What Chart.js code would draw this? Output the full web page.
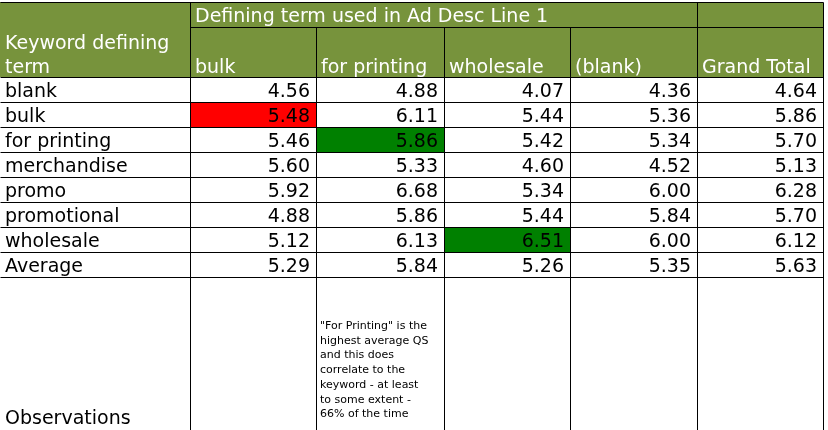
<!DOCTYPE html><html><head><meta charset="utf-8">
<script src="https://cdn.jsdelivr.net/npm/chart.js@4/dist/chart.umd.min.js"></script>
<style>html,body{margin:0;padding:0;background:#fff}#w{width:828px;height:430px}</style></head><body>
<div id="w"><canvas id="c"></canvas></div>
<script>
const topHeader = "Defining term used in Ad Desc Line 1";
const rowHeaderTitle = ["Keyword defining", "term"];
const columns = ["bulk", "for printing", "wholesale", "(blank)", "Grand Total"];
const rows = ["blank", "bulk", "for printing", "merchandise", "promo", "promotional", "wholesale", "Average"];
const bulkVals = [4.56, 5.48, 5.46, 5.60, 5.92, 4.88, 5.12, 5.29];
const forPrintingVals = [4.88, 6.11, 5.86, 5.33, 6.68, 5.86, 6.13, 5.84];
const wholesaleVals = [4.07, 5.44, 5.42, 4.60, 5.34, 5.44, 6.51, 5.26];
const blankVals = [4.36, 5.36, 5.34, 4.52, 6.00, 5.84, 6.00, 5.35];
const totalVals = [4.64, 5.86, 5.70, 5.13, 6.28, 5.70, 6.12, 5.63];
const highlights = [{r:1,c:0,color:"#ff0000"},{r:2,c:1,color:"#008000"},{r:6,c:2,color:"#008000"}];
const obsLabel = "Observations";
const obsNote = ["\"For Printing\" is the","highest average QS","and this does","correlate to the","keyword - at least","to some extent -","66% of the time"];

const colEdges = [0, 190, 316, 444, 570, 697, 823];
const rowEdges = [2, 27, 77, 102, 127, 152, 177, 202, 227, 252, 277, 430];
const series = [bulkVals, forPrintingVals, wholesaleVals, blankVals, totalVals];
const OLIVE = "#77933c";
const FONT = '19px "DejaVu Sans"';

const tablePlugin = {
  id: 'table',
  afterDraw(chart) {
    const ctx = chart.ctx, X = chart.scales.x, Y = chart.scales.y;
    const px = v => X.getPixelForValue(v), py = v => Y.getPixelForValue(v);
    ctx.save();
    ctx.fillStyle = OLIVE;
    ctx.fillRect(px(colEdges[0]), py(rowEdges[0]), px(colEdges[6]) - px(colEdges[0]), py(rowEdges[2]) - py(rowEdges[0]));
    highlights.forEach(h => {
      ctx.fillStyle = h.color;
      ctx.fillRect(px(colEdges[h.c+1]), py(rowEdges[h.r+2]), px(colEdges[h.c+2]) - px(colEdges[h.c+1]), py(rowEdges[h.r+3]) - py(rowEdges[h.r+2]));
    });
    ctx.strokeStyle = "#000"; ctx.lineWidth = 1;
    const line = (x1,y1,x2,y2)=>{ctx.beginPath();ctx.moveTo(Math.round(x1)+0.5,Math.round(y1)+0.5);ctx.lineTo(Math.round(x2)+0.5,Math.round(y2)+0.5);ctx.stroke();};
    line(px(0), py(rowEdges[0]), px(823), py(rowEdges[0]));
    line(px(190), py(rowEdges[1]), px(823), py(rowEdges[1]));
    for (let i = 2; i < rowEdges.length - 1; i++) line(px(0), py(rowEdges[i]), px(823), py(rowEdges[i]));
    line(px(190), py(rowEdges[0]), px(190), py(430));
    line(px(697), py(rowEdges[0]), px(697), py(430));
    line(px(823), py(rowEdges[0]), px(823), py(430));
    [316, 444, 570].forEach(x => line(px(x), py(rowEdges[1]), px(x), py(430)));
    ctx.font = FONT; ctx.textBaseline = "alphabetic";
    ctx.fillStyle = "#fff"; ctx.textAlign = "left";
    ctx.fillText(topHeader, px(195), py(22));
    ctx.fillText(rowHeaderTitle[0], px(5), py(49));
    ctx.fillText(rowHeaderTitle[1], px(5), py(73));
    columns.forEach((c,i) => ctx.fillText(c, px(colEdges[i+1]+5), py(73)));
    rows.forEach((r,ri) => {
      const base = py(rowEdges[ri+2]) + 20;
      ctx.fillStyle = "#000"; ctx.textAlign = "left";
      ctx.fillText(r, px(5), base);
      ctx.textAlign = "right";
      series.forEach((s,ci) => ctx.fillText(s[ri].toFixed(2), px(colEdges[ci+2]-6), base));
    });
    ctx.textAlign = "left";
    ctx.fillText(obsLabel, px(5), py(424));
    ctx.font = '11px "DejaVu Sans"';
    obsNote.forEach((t,i) => ctx.fillText(t, px(320), py(329 + i*14.7)));
    ctx.restore();
  }
};

new Chart(document.getElementById('c'), {
  type: 'scatter',
  data: { datasets: [{ data: [] }] },
  options: {
    responsive: true, maintainAspectRatio: false, animation: false,
    layout: { padding: 0 },
    plugins: { legend: { display: false }, tooltip: { enabled: false } },
    scales: {
      x: { type: 'linear', min: 0, max: 828, display: false },
      y: { type: 'linear', min: 0, max: 430, reverse: true, display: false }
    }
  },
  plugins: [tablePlugin]
});
</script></body></html>
